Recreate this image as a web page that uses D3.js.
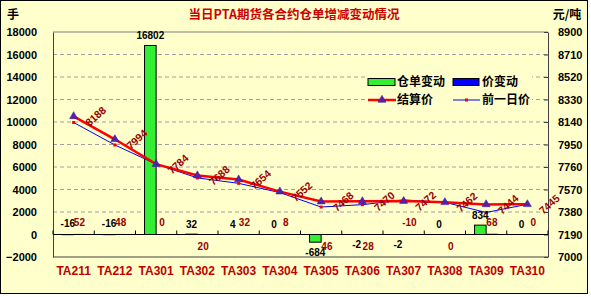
<!DOCTYPE html>
<html>
<head>
<meta charset="utf-8" />
<title>当日PTA期货各合约仓单增减变动情况</title>
<script src="https://cdn.jsdelivr.net/npm/d3@7/dist/d3.min.js"></script>
<style>
  body { margin: 0; background: #fff; }
  text { font-family: "Liberation Sans", Arial, sans-serif; }
  .cjk { font-family: "Noto Sans CJK SC", sans-serif; }
</style>
</head>
<body>
<div id="chart"></div>
<script>
// contracts on the x axis
var contracts = ['TA211', 'TA212', 'TA301', 'TA302', 'TA303', 'TA304',
                 'TA305', 'TA306', 'TA307', 'TA308', 'TA309', 'TA310'];
// 仓单变动 (lots, left axis)
var warrantChange = [-16, -16, 16802, 32, 4, 0, -684, -2, -2, 0, 834, 0];
// 价变动 (yuan/t, left axis bars, labels shown as in source)
var priceChange = [52, 48, 0, 20, 32, 8, 46, 28, -10, 0, 68, 0];
// 结算价 / 前一日价 (right axis)
var settlePrice = [8188, 7994, 7784, 7688, 7654, 7552, 7468, 7470, 7472, 7462, 7444, 7445];
var prevPrice   = [8136, 7946, 7784, 7668, 7622, 7544, 7422, 7442, 7482, 7462, 7376, 7445];
// axis ticks
var leftTicks  = [-2000, 0, 2000, 4000, 6000, 8000, 10000, 12000, 14000, 16000, 18000];
var rightTicks = [7000, 7190, 7380, 7570, 7760, 7950, 8140, 8330, 8520, 8710, 8900];
// label sides that differ from the sign of the value in the source
var priceLabelBelow = ['TA302', 'TA305', 'TA306', 'TA308'];
var warrantLabelAbove = ['TA211', 'TA212'];

(function () {
var W = 591, H = 297;
var bg = '#FFFFCC';
var pLeft = 53, pRight = 548, pTop = 32, pBottom = 257;
var fmt = d3.format('d');

var svg = d3.select('#chart').append('svg')
  .attr('width', W).attr('height', H);

svg.append('rect')
  .attr('x', 0.5).attr('y', 0.5)
  .attr('width', 587).attr('height', 293)
  .attr('fill', bg).attr('stroke', '#000');

var x = d3.scaleBand().domain(contracts).range([pLeft, pRight]);
var x1 = d3.scaleBand().domain(['warrant', 'price'])
  .range([0, x.bandwidth()]).paddingInner(0).paddingOuter(0.78);
var yL = d3.scaleLinear().domain([-2000, 18000]).range([pBottom, pTop]);
var yR = d3.scaleLinear().domain([7000, 8900]).range([pBottom, pTop]);
var cx = function (i) { return x(contracts[i]) + x.bandwidth() / 2; };

// dashed gridlines
svg.append('g').selectAll('line')
  .data(leftTicks.filter(function (d) { return d !== -2000 && d !== 0 && d !== 18000; }))
  .enter().append('line')
  .attr('x1', pLeft).attr('x2', pRight)
  .attr('y1', function (d) { return yL(d); })
  .attr('y2', function (d) { return yL(d); })
  .attr('stroke', '#A0A0A0').attr('stroke-dasharray', '4,3');

// plot borders
svg.append('line').attr('x1', pLeft).attr('x2', pRight).attr('y1', pTop).attr('y2', pTop)
  .attr('stroke', '#808080');
svg.append('line').attr('x1', pLeft).attr('x2', pRight).attr('y1', pBottom).attr('y2', pBottom)
  .attr('stroke', '#404040');

// left axis
var gL = svg.append('g').attr('transform', 'translate(' + pLeft + ',0)')
  .call(d3.axisLeft(yL).tickValues(leftTicks).tickFormat(fmt)
    .tickSize(0).tickSizeOuter(0).tickPadding(16));
gL.select('.domain').attr('stroke', '#404040');
gL.selectAll('text').attr('font-size', 11).attr('font-weight', 'bold')
  .attr('font-family', '"Liberation Sans", Arial, sans-serif').attr('fill', '#000');

// right axis
var gR = svg.append('g').attr('transform', 'translate(' + pRight + ',0)')
  .call(d3.axisRight(yR).tickValues(rightTicks).tickFormat(fmt)
    .tickSize(-4).tickSizeOuter(0).tickPadding(10));
gR.select('.domain').attr('stroke', '#404040');
gR.selectAll('.tick line').attr('stroke', '#404040');
gR.selectAll('text').attr('font-size', 11).attr('font-weight', 'bold')
  .attr('font-family', '"Liberation Sans", Arial, sans-serif').attr('fill', '#000');

// bars
var bars = svg.append('g');
bars.selectAll('rect.w').data(warrantChange).enter().append('rect')
  .attr('x', function (d, i) { return x(contracts[i]) + x1('warrant'); })
  .attr('width', x1.bandwidth())
  .attr('y', function (d) { return yL(Math.max(d, 0)); })
  .attr('height', function (d) { return Math.abs(yL(d) - yL(0)); })
  .attr('fill', '#33EE33').attr('stroke', '#000').attr('stroke-width', 1);
bars.selectAll('rect.p').data(priceChange).enter().append('rect')
  .attr('x', function (d, i) { return x(contracts[i]) + x1('price'); })
  .attr('width', x1.bandwidth())
  .attr('y', function (d) { return yL(Math.max(d, 0)); })
  .attr('height', function (d) { return Math.abs(yL(d) - yL(0)); })
  .attr('fill', '#0000FF');

// zero axis with boundary ticks
var y0 = yL(0);
svg.append('line').attr('x1', pLeft).attr('x2', pRight).attr('y1', y0).attr('y2', y0)
  .attr('stroke', '#000');
svg.append('g').selectAll('line')
  .data(contracts.map(function (c) { return x(c); }).concat([pRight]))
  .enter().append('line')
  .attr('x1', function (d) { return d; }).attr('x2', function (d) { return d; })
  .attr('y1', y0 - 4).attr('y2', y0).attr('stroke', '#000');

// category labels
svg.append('g').selectAll('text').data(contracts).enter().append('text')
  .attr('x', function (d, i) { return cx(i); })
  .attr('y', 275)
  .attr('text-anchor', 'middle')
  .attr('font-family', '"Liberation Serif", "Times New Roman", serif')
  .attr('font-size', 12).attr('font-weight', 'bold')
  .attr('fill', '#C00000')
  .text(function (d) { return d; });

// lines
var priceLine = d3.line().x(function (d, i) { return cx(i); }).y(function (d) { return yR(d); });
svg.append('path').datum(prevPrice).attr('d', priceLine)
  .attr('fill', 'none').attr('stroke', '#0000FF').attr('stroke-width', 1);
svg.append('path').datum(settlePrice).attr('d', priceLine)
  .attr('fill', 'none').attr('stroke', '#FF0000').attr('stroke-width', 2.5);

svg.append('g').selectAll('rect').data(prevPrice).enter().append('rect')
  .attr('x', function (d, i) { return cx(i) - 1.5; })
  .attr('y', function (d) { return yR(d) - 1.5; })
  .attr('width', 3).attr('height', 3).attr('fill', '#FF0000');
var tri = d3.symbol(d3.symbolTriangle).size(28);
svg.append('g').selectAll('path').data(settlePrice).enter().append('path')
  .attr('d', tri)
  .attr('transform', function (d, i) { return 'translate(' + cx(i) + ',' + yR(d) + ')'; })
  .attr('fill', '#5522AA').attr('stroke', '#3311AA').attr('stroke-width', 0.5);

// settlement price labels, rotated
svg.append('g').selectAll('text').data(settlePrice).enter().append('text')
  .attr('transform', function (d, i) {
    return 'translate(' + (cx(i) + 22) + ',' + yR(d) + ') rotate(-42)';
  })
  .attr('text-anchor', 'middle').attr('dy', '0.35em')
  .attr('font-size', 10.5).attr('font-weight', 'bold').attr('fill', '#990000')
  .text(function (d) { return d; });

// warrant change labels
svg.append('g').selectAll('text').data(warrantChange).enter().append('text')
  .attr('x', function (d, i) { return x(contracts[i]) + x1('warrant') + x1.bandwidth() / 2; })
  .attr('y', function (d, i) {
    if (d >= 0) return yL(d) - 10;
    return warrantLabelAbove.indexOf(contracts[i]) >= 0 ? y0 - 11 : yL(d) + 10;
  })
  .attr('dy', '0.35em').attr('text-anchor', 'middle')
  .attr('font-size', 10).attr('font-weight', 'bold').attr('fill', '#000')
  .text(function (d) { return d; });

// price change labels
svg.append('g').selectAll('text').data(priceChange).enter().append('text')
  .attr('x', function (d, i) { return x(contracts[i]) + x1('price') + x1.bandwidth() / 2; })
  .attr('y', function (d, i) { return priceLabelBelow.indexOf(contracts[i]) >= 0 ? y0 + 12 : y0 - 12; })
  .attr('dy', '0.35em').attr('text-anchor', 'middle')
  .attr('font-size', 10).attr('font-weight', 'bold').attr('fill', '#990000')
  .text(function (d) { return d; });

// title and units
svg.append('text').attr('class', 'cjk')
  .attr('x', 294).attr('y', 15).attr('dy', '0.35em').attr('text-anchor', 'middle')
  .attr('font-size', 12.5).attr('font-weight', 'bold').attr('fill', '#CC0000')
  .text('当日PTA期货各合约仓单增减变动情况');
svg.append('text').attr('class', 'cjk')
  .attr('x', 13).attr('y', 15).attr('dy', '0.35em').attr('text-anchor', 'middle')
  .attr('font-size', 12).attr('font-weight', 'bold').text('手');
svg.append('text').attr('class', 'cjk')
  .attr('x', 567).attr('y', 15).attr('dy', '0.35em').attr('text-anchor', 'middle')
  .attr('font-size', 12).attr('font-weight', 'bold').text('元/吨');

// legend
var lg = svg.append('g');
lg.append('rect').attr('x', 366).attr('y', 70).attr('width', 166).attr('height', 38).attr('fill', bg);
lg.append('rect').attr('x', 368).attr('y', 78.5).attr('width', 27).attr('height', 7)
  .attr('fill', '#33EE33').attr('stroke', '#000');
lg.append('rect').attr('x', 453).attr('y', 78.5).attr('width', 26).attr('height', 7)
  .attr('fill', '#0000FF').attr('stroke', '#000');
lg.append('line').attr('x1', 368).attr('x2', 396).attr('y1', 100).attr('y2', 100)
  .attr('stroke', '#FF0000').attr('stroke-width', 2.5);
lg.append('path').attr('d', tri).attr('transform', 'translate(382,100)')
  .attr('fill', '#5522AA').attr('stroke', '#3311AA').attr('stroke-width', 0.5);
lg.append('line').attr('x1', 453).attr('x2', 480).attr('y1', 100).attr('y2', 100)
  .attr('stroke', '#0000FF').attr('stroke-width', 1);
lg.append('rect').attr('x', 465).attr('y', 98.5).attr('width', 3).attr('height', 3).attr('fill', '#FF0000');
var legendText = [['仓单变动', 397, 82], ['价变动', 482, 82], ['结算价', 397, 100], ['前一日价', 482, 100]];
lg.selectAll('text.l').data(legendText).enter().append('text').attr('class', 'cjk')
  .attr('x', function (d) { return d[1]; }).attr('y', function (d) { return d[2]; })
  .attr('dy', '0.35em').attr('font-size', 12).attr('font-weight', 'bold').attr('fill', '#000')
  .text(function (d) { return d[0]; });
})();
</script>
</body>
</html>
